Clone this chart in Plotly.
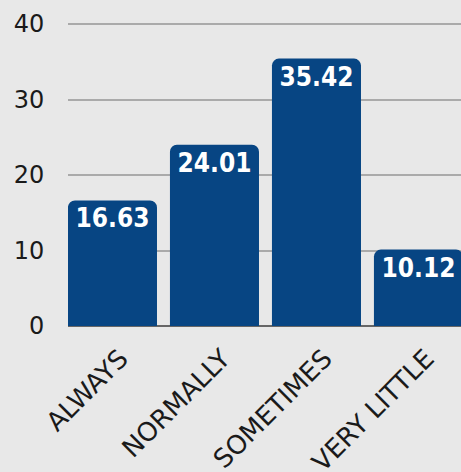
import plotly.graph_objects as go

categories = ["ALWAYS", "NORMALLY", "SOMETIMES", "VERY LITTLE"]
values = [16.63, 24.01, 35.42, 10.12]
labels = ["16.63", "24.01", "35.42", "10.12"]
y_ticks = [0, 10, 20, 30, 40]

fig = go.Figure(go.Bar(
    x=categories, y=values, text=labels,
    textposition="inside", insidetextanchor="end",
    textangle=0,
    textfont=dict(family="DejaVu Sans Condensed", size=26, color="white", weight="bold"),
    marker=dict(color="#074583", cornerradius=7, line=dict(width=0)),
))

fig.update_layout(
    width=461, height=472,
    margin=dict(l=68, r=0, t=0, b=146, autoexpand=False),
    paper_bgcolor="#e8e8e8", plot_bgcolor="#e8e8e8",
    bargap=0.127,
    showlegend=False,
    uniformtext=dict(mode=False),
    xaxis=dict(range=[-0.436, 3.417], tickangle=-45, showgrid=False, automargin=False,
               tickfont=dict(family="DejaVu Sans", size=26, color="#1a1a1a"),
               ticks="outside", ticklen=6, tickcolor="rgba(0,0,0,0)", showline=False,
               ticklabelshift=8),
    yaxis=dict(range=[0, 43.18], tickvals=y_ticks, showgrid=True, automargin=False,
               gridcolor="#aaaaaa", gridwidth=2,
               zeroline=True, zerolinecolor="#666666", zerolinewidth=2,
               tickfont=dict(family="DejaVu Sans", size=24, color="#1a1a1a"),
               ticks="outside", ticklen=18, tickcolor="rgba(0,0,0,0)"),
)

fig.write_html("out.html")
